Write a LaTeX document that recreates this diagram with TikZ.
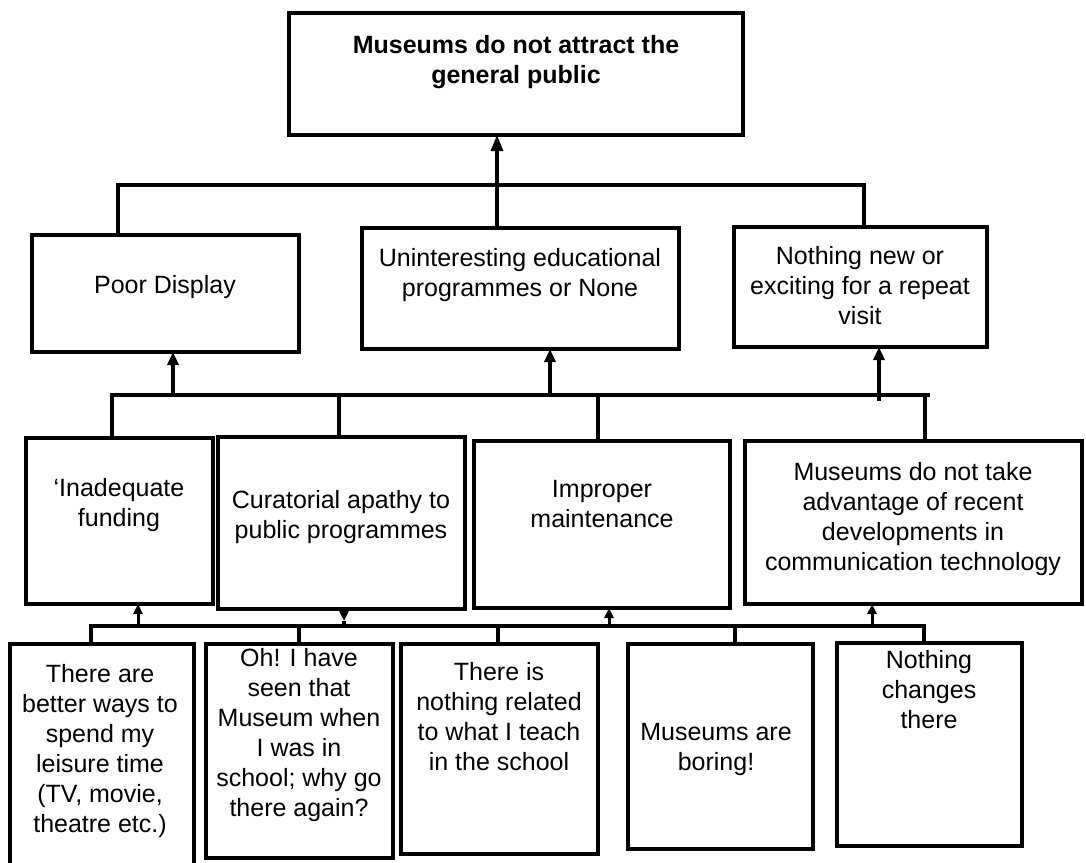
\documentclass[tikz,border=0pt]{standalone}
\usepackage{fontspec}
\setmainfont{Liberation Sans}
\usetikzlibrary{arrows.meta,calc}
\begin{document}
\begin{tikzpicture}[x=1pt,y=-1pt,
  box/.style={draw, line width=3.6pt, inner sep=0pt, outer sep=0pt},
  txt/.style={align=center, inner sep=0pt, font=\fontsize{25}{30}\selectfont},
  conn/.style={line width=3.2pt},
  arrbig/.style={line width=3.2pt, -{Triangle[length=16pt,width=12pt]}},
  arrmid/.style={line width=3.2pt, -{Triangle[length=13pt,width=11pt]}},
  arrsmall/.style={line width=3pt, -{Triangle[length=10pt,width=9pt]}}]
\useasboundingbox[fill=white] (0,0) rectangle (1086,862);
% boxes
\node[box, minimum width=454pt, minimum height=122pt] (T)  at (516,74) {};
\node[box, minimum width=267pt, minimum height=117pt] (PD) at (165.5,293.5) {};
\node[box, minimum width=317pt, minimum height=121pt] (UE) at (520.5,288.5) {};
\node[box, minimum width=253pt, minimum height=120pt] (NN) at (860.5,287) {};
\node[box, minimum width=187pt, minimum height=166pt] (IF) at (119.5,521) {};
\node[box, minimum width=247pt, minimum height=172pt] (CA) at (341.5,523) {};
\node[box, minimum width=256pt, minimum height=167pt] (IM) at (602,524.5) {};
\node[box, minimum width=337pt, minimum height=163pt] (MT) at (913.5,522.5) {};
\node[box, minimum width=184pt, minimum height=226pt] (TA) at (102,757) {};
\node[box, minimum width=187pt, minimum height=214pt] (OH) at (299.5,751) {};
\node[box, minimum width=197pt, minimum height=210pt] (TI) at (499.5,749) {};
\node[box, minimum width=185pt, minimum height=205pt] (MB) at (720.5,746.5) {};
\node[box, minimum width=185pt, minimum height=203pt] (NC) at (929.5,744.5) {};
% texts
\node[txt, font=\fontsize{25}{30}\selectfont\bfseries] (tT) at (516,62) {Museums do not attract the\\general public};
\node[txt] (tPD) at (165,287) {Poor Display};
\node[txt] (tUE) at (520,275) {Uninteresting educational\\programmes or None};
\node[txt] (tNN) at (860,286) {Nothing new or\\exciting for a repeat\\visit};
\node[txt] (tIF) at (119,505) {\textquoteleft Inadequate\\funding};
\node[txt] (tCA) at (341,517) {Curatorial apathy to\\public programmes};
\node[txt] (tIM) at (602,504) {Improper\\maintenance};
\node[txt] (tMT) at (913,519) {Museums do not take\\advantage of recent\\developments in\\communication technology};
\node[txt] (tTA) at (100,751) {There are\\better ways to\\spend my\\leisure time\\(TV, movie,\\theatre etc.)};
\node[txt] (tOH) at (299,735) {Oh! I have\\seen that\\Museum when\\I was in\\school; why go\\there again?};
\node[txt] (tTI) at (499,717) {There is\\nothing related\\to what I teach\\in the school};
\node[txt] (tMB) at (716,749) {Museums are\\boring!};
\node[txt] (tNC) at (929,690) {Nothing\\changes\\there};
% level 1 connectors
\coordinate (L1a) at (118,185);
\coordinate (L1b) at (864,185);
\coordinate (A1) at (497,185);
\draw[conn] (PD.north -| L1a) -- (L1a) -- (L1b) -- (NN.north -| L1b);
\draw[arrbig] (UE.north -| A1) -- (T.south -| A1);
% level 2 connectors
\coordinate (L2a) at (112,395);
\coordinate (L2b) at (930,395);
\coordinate (V2b) at (339,395);
\coordinate (V2c) at (598,395);
\coordinate (V2d) at (925,395);
\coordinate (A2a) at (173,395);
\coordinate (A2b) at (550,395);
\coordinate (A2c) at (879,401);
\draw[conn] (IF.north -| L2a) -- (L2a) -- (L2b);
\draw[conn] (V2b) -- (CA.north -| V2b);
\draw[conn] (V2c) -- (IM.north -| V2c);
\draw[conn] (V2d) -- (MT.north -| V2d);
\draw[arrmid] (A2a) -- (PD.south -| A2a);
\draw[arrmid] (A2b) -- (UE.south -| A2b);
\draw[arrmid] (A2c) -- (NN.south -| A2c);
% level 3 connectors
\coordinate (L3a) at (91,626);
\coordinate (L3b) at (924,626);
\coordinate (V3b) at (299,626);
\coordinate (V3c) at (498,626);
\coordinate (V3d) at (735,626);
\coordinate (A3a) at (138,626);
\coordinate (A3b) at (344,626);
\coordinate (A3c) at (609,626);
\coordinate (A3d) at (872,626);
\coordinate (A3bt) at (344,621);
\draw[conn] (TA.north -| L3a) -- (L3a) -- (L3b) -- (NC.north -| L3b);
\draw[conn] (V3b) -- (OH.north -| V3b);
\draw[conn] (V3c) -- (TI.north -| V3c);
\draw[conn] (V3d) -- (MB.north -| V3d);
\draw[arrsmall] (A3a) -- (IF.south -| A3a);
\draw[arrsmall] (CA.south -| A3b) -- (A3bt);
\draw[conn] (A3bt) -- (A3b);
\draw[arrsmall] (A3c) -- (IM.south -| A3c);
\draw[arrsmall] (A3d) -- (MT.south -| A3d);
\end{tikzpicture}
\end{document}
